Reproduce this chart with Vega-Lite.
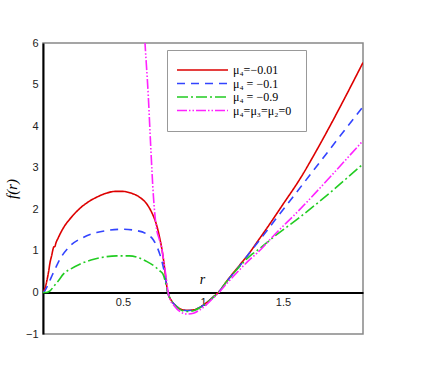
{
  "$schema": "https://vega.github.io/schema/vega-lite/v6.json",
  "width": 320,
  "height": 291,
  "autosize": {"type": "none"},
  "padding": {"left": 43, "top": 43, "right": 66, "bottom": 48},
  "background": "white",
  "config": {
    "view": {"stroke": "#888888", "strokeWidth": 1.5},
    "font": "Liberation Sans",
    "legend": {
      "orient": "none", "legendX": 124, "legendY": 7,
      "title": null,
      "symbolType": "M-2,0H8.2", "symbolSize": 100, "symbolStrokeWidth": 1.6,
      "labelFont": "Liberation Serif", "labelFontSize": 12, "labelColor": "black",
      "labelOffset": 40, "rowPadding": 1.5,
      "padding": 14, "strokeColor": "#999999", "fillColor": "white", "cornerRadius": 0
    }
  },
  "data": {
    "values": [
      {"s": "a", "x": 0, "y": 0}, {"s": "a", "x": 0.012, "y": 0.1}, {"s": "a", "x": 0.023, "y": 0.26}, {"s": "a", "x": 0.035, "y": 0.5}, {"s": "a", "x": 0.044, "y": 0.72}, {"s": "a", "x": 0.055, "y": 0.9}, {"s": "a", "x": 0.064, "y": 1.06}, {"s": "a", "x": 0.068, "y": 1.1}, {"s": "a", "x": 0.074, "y": 1.1}, {"s": "a", "x": 0.08, "y": 1.18}, {"s": "a", "x": 0.096, "y": 1.32}, {"s": "a", "x": 0.127, "y": 1.55}, {"s": "a", "x": 0.18, "y": 1.82}, {"s": "a", "x": 0.23, "y": 2.02}, {"s": "a", "x": 0.28, "y": 2.17}, {"s": "a", "x": 0.335, "y": 2.29}, {"s": "a", "x": 0.39, "y": 2.38}, {"s": "a", "x": 0.45, "y": 2.43}, {"s": "a", "x": 0.5, "y": 2.43}, {"s": "a", "x": 0.54, "y": 2.4}, {"s": "a", "x": 0.6, "y": 2.3}, {"s": "a", "x": 0.65, "y": 2.12}, {"s": "a", "x": 0.68, "y": 1.92}, {"s": "a", "x": 0.71, "y": 1.62}, {"s": "a", "x": 0.73, "y": 1.3}, {"s": "a", "x": 0.745, "y": 1.0}, {"s": "a", "x": 0.76, "y": 0.58}, {"s": "a", "x": 0.77, "y": 0.25}, {"s": "a", "x": 0.78, "y": 0.0}, {"s": "a", "x": 0.8, "y": -0.18}, {"s": "a", "x": 0.83, "y": -0.32}, {"s": "a", "x": 0.86, "y": -0.4}, {"s": "a", "x": 0.9, "y": -0.43}, {"s": "a", "x": 0.94, "y": -0.42}, {"s": "a", "x": 0.98, "y": -0.36}, {"s": "a", "x": 1.02, "y": -0.25}, {"s": "a", "x": 1.06, "y": -0.12}, {"s": "a", "x": 1.096, "y": 0}, {"s": "a", "x": 1.15, "y": 0.28}, {"s": "a", "x": 1.23, "y": 0.66}, {"s": "a", "x": 1.3, "y": 1.0}, {"s": "a", "x": 1.336, "y": 1.2}, {"s": "a", "x": 1.4, "y": 1.55}, {"s": "a", "x": 1.5, "y": 2.12}, {"s": "a", "x": 1.606, "y": 2.73}, {"s": "a", "x": 1.7, "y": 3.35}, {"s": "a", "x": 1.8, "y": 4.05}, {"s": "a", "x": 1.9, "y": 4.78}, {"s": "a", "x": 2.0, "y": 5.53},

      {"s": "b", "x": 0, "y": 0}, {"s": "b", "x": 0.01, "y": 0.03}, {"s": "b", "x": 0.023, "y": 0.12}, {"s": "b", "x": 0.05, "y": 0.35}, {"s": "b", "x": 0.08, "y": 0.6}, {"s": "b", "x": 0.106, "y": 0.8}, {"s": "b", "x": 0.17, "y": 1.12}, {"s": "b", "x": 0.25, "y": 1.32}, {"s": "b", "x": 0.335, "y": 1.44}, {"s": "b", "x": 0.42, "y": 1.5}, {"s": "b", "x": 0.5, "y": 1.52}, {"s": "b", "x": 0.58, "y": 1.49}, {"s": "b", "x": 0.65, "y": 1.4}, {"s": "b", "x": 0.69, "y": 1.26}, {"s": "b", "x": 0.71, "y": 1.12}, {"s": "b", "x": 0.73, "y": 0.92}, {"s": "b", "x": 0.75, "y": 0.64}, {"s": "b", "x": 0.765, "y": 0.34}, {"s": "b", "x": 0.78, "y": 0.0}, {"s": "b", "x": 0.8, "y": -0.18}, {"s": "b", "x": 0.83, "y": -0.32}, {"s": "b", "x": 0.86, "y": -0.4}, {"s": "b", "x": 0.9, "y": -0.44}, {"s": "b", "x": 0.94, "y": -0.42}, {"s": "b", "x": 0.98, "y": -0.36}, {"s": "b", "x": 1.02, "y": -0.26}, {"s": "b", "x": 1.06, "y": -0.13}, {"s": "b", "x": 1.096, "y": 0}, {"s": "b", "x": 1.15, "y": 0.27}, {"s": "b", "x": 1.23, "y": 0.64}, {"s": "b", "x": 1.3, "y": 1.0}, {"s": "b", "x": 1.336, "y": 1.17}, {"s": "b", "x": 1.45, "y": 1.74}, {"s": "b", "x": 1.585, "y": 2.41}, {"s": "b", "x": 1.8, "y": 3.48}, {"s": "b", "x": 2.0, "y": 4.47},

      {"s": "c", "x": 0, "y": 0}, {"s": "c", "x": 0.02, "y": 0.0}, {"s": "c", "x": 0.044, "y": 0.04}, {"s": "c", "x": 0.07, "y": 0.16}, {"s": "c", "x": 0.1, "y": 0.3}, {"s": "c", "x": 0.127, "y": 0.44}, {"s": "c", "x": 0.18, "y": 0.58}, {"s": "c", "x": 0.23, "y": 0.68}, {"s": "c", "x": 0.3, "y": 0.78}, {"s": "c", "x": 0.38, "y": 0.85}, {"s": "c", "x": 0.46, "y": 0.88}, {"s": "c", "x": 0.54, "y": 0.88}, {"s": "c", "x": 0.6, "y": 0.83}, {"s": "c", "x": 0.65, "y": 0.74}, {"s": "c", "x": 0.7, "y": 0.62}, {"s": "c", "x": 0.73, "y": 0.52}, {"s": "c", "x": 0.75, "y": 0.44}, {"s": "c", "x": 0.765, "y": 0.25}, {"s": "c", "x": 0.78, "y": 0.0}, {"s": "c", "x": 0.8, "y": -0.18}, {"s": "c", "x": 0.83, "y": -0.33}, {"s": "c", "x": 0.86, "y": -0.42}, {"s": "c", "x": 0.9, "y": -0.46}, {"s": "c", "x": 0.94, "y": -0.44}, {"s": "c", "x": 0.98, "y": -0.37}, {"s": "c", "x": 1.02, "y": -0.26}, {"s": "c", "x": 1.06, "y": -0.13}, {"s": "c", "x": 1.096, "y": 0}, {"s": "c", "x": 1.15, "y": 0.27}, {"s": "c", "x": 1.23, "y": 0.63}, {"s": "c", "x": 1.3, "y": 0.9}, {"s": "c", "x": 1.336, "y": 1.0}, {"s": "c", "x": 1.45, "y": 1.36}, {"s": "c", "x": 1.596, "y": 1.78}, {"s": "c", "x": 1.8, "y": 2.42}, {"s": "c", "x": 2.0, "y": 3.09},

      {"s": "d", "x": 0.63, "y": 6.5}, {"s": "d", "x": 0.6375, "y": 6.0}, {"s": "d", "x": 0.658, "y": 4.73}, {"s": "d", "x": 0.673, "y": 3.53}, {"s": "d", "x": 0.69, "y": 2.32}, {"s": "d", "x": 0.71, "y": 1.52}, {"s": "d", "x": 0.725, "y": 1.3}, {"s": "d", "x": 0.74, "y": 1.1}, {"s": "d", "x": 0.755, "y": 0.75}, {"s": "d", "x": 0.77, "y": 0.35}, {"s": "d", "x": 0.78, "y": 0.05}, {"s": "d", "x": 0.79, "y": -0.12}, {"s": "d", "x": 0.82, "y": -0.32}, {"s": "d", "x": 0.86, "y": -0.47}, {"s": "d", "x": 0.9, "y": -0.52}, {"s": "d", "x": 0.94, "y": -0.5}, {"s": "d", "x": 0.98, "y": -0.42}, {"s": "d", "x": 1.02, "y": -0.3}, {"s": "d", "x": 1.06, "y": -0.15}, {"s": "d", "x": 1.1, "y": 0}, {"s": "d", "x": 1.15, "y": 0.22}, {"s": "d", "x": 1.23, "y": 0.55}, {"s": "d", "x": 1.3, "y": 0.82}, {"s": "d", "x": 1.336, "y": 0.94}, {"s": "d", "x": 1.45, "y": 1.4}, {"s": "d", "x": 1.596, "y": 1.96}, {"s": "d", "x": 1.8, "y": 2.8}, {"s": "d", "x": 2.0, "y": 3.65}
    ]
  },
  "mark": {"type": "line", "clip": true, "strokeWidth": 1.6, "interpolate": "monotone"},
  "encoding": {
    "x": {
      "field": "x", "type": "quantitative",
      "scale": {"domain": [0, 2], "nice": false, "zero": false},
      "axis": {
        "values": [0.5, 1, 1.5],
        "format": "~g",
        "offset": -41.57,
        "domainColor": "black", "domainWidth": 2,
        "ticks": false, "grid": false,
        "labelPadding": 4, "labelFontSize": 11, "labelColor": "#222",
        "labelFont": "Liberation Sans",
        "title": "r", "titleFont": "Liberation Serif", "titleFontStyle": "italic",
        "titleFontWeight": "normal", "titleFontSize": 14,
        "titleX": 159, "titleY": -6, "titleAlign": "center", "titleBaseline": "bottom"
      }
    },
    "y": {
      "field": "y", "type": "quantitative",
      "scale": {"domain": [-1, 6], "nice": false, "zero": false},
      "axis": {
        "values": [-1, 0, 1, 2, 3, 4, 5, 6],
        "domainColor": "black", "domainWidth": 2,
        "ticks": false, "grid": false,
        "labelPadding": 5, "labelFontSize": 11, "labelColor": "#222",
        "labelFont": "Liberation Sans",
        "title": "f(r)", "titleFont": "Liberation Serif", "titleFontStyle": "italic",
        "titleFontWeight": "normal", "titleFontSize": 15, "titlePadding": 6
      }
    },
    "color": {
      "field": "s", "type": "nominal",
      "scale": {"domain": ["a", "b", "c", "d"], "range": ["#dd0000", "#3344ff", "#22cc22", "#ff22ff"]},
      "legend": {
        "labelExpr": "datum.value == 'a' ? 'μ₄=−0.01' : datum.value == 'b' ? 'μ₄ = −0.1' : datum.value == 'c' ? 'μ₄ = −0.9' : 'μ₄=μ₃=μ₂=0'"
      }
    },
    "strokeDash": {
      "field": "s", "type": "nominal",
      "scale": {"domain": ["a", "b", "c", "d"], "range": [[1, 0], [8, 6], [11, 3, 2, 3], [10, 2, 1.5, 2, 1.5, 2]]},
      "legend": {
        "labelExpr": "datum.value == 'a' ? 'μ₄=−0.01' : datum.value == 'b' ? 'μ₄ = −0.1' : datum.value == 'c' ? 'μ₄ = −0.9' : 'μ₄=μ₃=μ₂=0'"
      }
    }
  }
}
